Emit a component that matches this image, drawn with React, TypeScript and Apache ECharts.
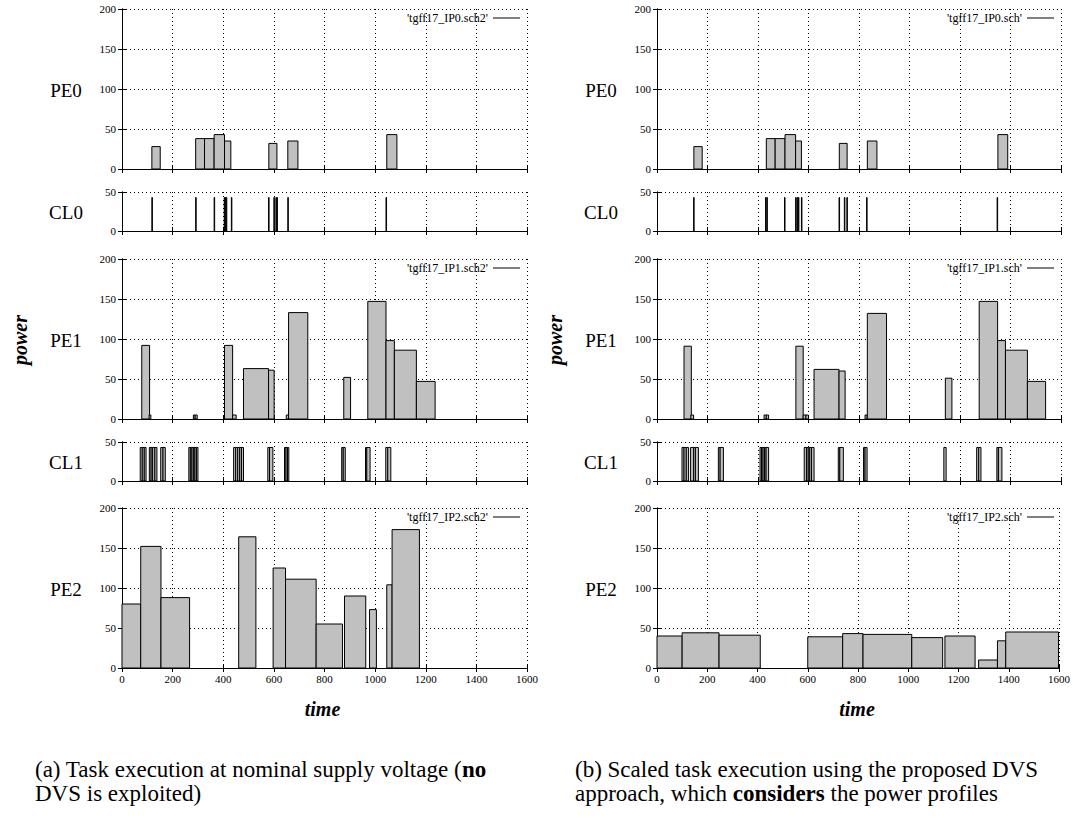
import React, { useEffect, useRef } from "react";
import * as echarts from "echarts";

// ---------- data: [start time, end time, power] ----------
// (a) nominal supply voltage
const PE0_A = [[118,151,28],[291,326,38],[326,364,38],[364,405,43],[405,430,35],[580,612,32],[655,695,35],[1046,1086,43]];
const CL0_A = [[118,120,43],[291,293,43],[364,366,43],[404,406,43],[408,410,43],[412,414,43],[432,434,43],[579,581,43],[600,602,43],[608,610,43],[612,614,43],[655,657,43],[1043,1045,43]];
const PE1_A = [[78,109,92],[107,114,5],[282,289,5],[289,297,5],[405,437,92],[437,451,5],[480,579,63],[579,601,61],[649,658,5],[658,734,133],[876,903,52],[971,1043,147],[1043,1076,98],[1076,1163,86],[1163,1237,47]];
const CL1_A = [[72,80,43],[80,88,43],[88,95,43],[108,115,43],[115,121,43],[121,130,43],[130,138,43],[153,162,43],[162,171,43],[264,270,43],[270,276,43],[276,282,43],[282,288,43],[288,294,43],[294,300,43],[441,449,43],[449,457,43],[457,465,43],[465,472,43],[472,480,43],[576,583,43],[583,596,43],[642,648,43],[648,654,43],[654,659,43],[868,874,43],[874,882,43],[962,967,43],[967,980,43],[1042,1050,43],[1050,1062,43]];
const PE2_A = [[0,74,80],[74,154,152],[154,267,88],[461,529,164],[597,646,125],[646,767,111],[767,871,55],[879,963,90],[978,1005,73],[1046,1067,104],[1067,1175,173]];

// (b) scaled (DVS)
const PE0_B = [[146,179,28],[433,468,38],[468,507,38],[507,549,43],[549,572,35],[722,753,32],[833,871,35],[1350,1389,43]];
const CL0_B = [[145,147,43],[430,432,43],[435,437,43],[505,507,43],[549,551,43],[555,557,43],[560,562,43],[572,574,43],[721,723,43],[742,744,43],[752,754,43],[830,832,43],[1347,1349,43]];
const PE1_B = [[107,136,91],[134,145,5],[424,433,5],[433,442,5],[550,579,91],[579,590,5],[590,600,5],[622,721,62],[721,745,60],[824,832,5],[833,909,132],[1142,1168,51],[1276,1349,147],[1349,1380,98],[1380,1467,86],[1467,1539,47]];
const CL1_B = [[99,107,43],[107,116,43],[116,125,43],[133,145,43],[145,152,43],[152,164,43],[243,250,43],[250,263,43],[408,414,43],[414,420,43],[420,426,43],[426,432,43],[432,442,43],[583,592,43],[592,599,43],[599,605,43],[605,612,43],[612,622,43],[718,724,43],[724,738,43],[818,824,43],[824,832,43],[1136,1145,43],[1266,1274,43],[1274,1283,43],[1346,1352,43],[1352,1366,43]];
const PE2_B = [[0,100,40],[100,247,44],[247,411,41],[600,739,39],[739,820,43],[820,1014,42],[1014,1137,38],[1146,1266,40],[1280,1355,10],[1355,1388,34],[1388,1598,45]];

const ROW_LABELS = ["PE0", "CL0", "PE1", "CL1", "PE2"];
const ROW_MAX = [200, 50, 200, 50, 200];
const LEGENDS_A = ["'tgff17_IP0.sch2'", null, "'tgff17_IP1.sch2'", null, "'tgff17_IP2.sch2'"];
const LEGENDS_B = ["'tgff17_IP0.sch'", null, "'tgff17_IP1.sch'", null, "'tgff17_IP2.sch'"];
// caption pieces: [text, bold]
const CAPTION_A: [string, boolean][][] = [
  [["(a) Task execution at nominal supply voltage (", false], ["no", true]],
  [["DVS is exploited)", false]],
];
const CAPTION_B: [string, boolean][][] = [
  [["(b) Scaled task execution using the proposed DVS", false]],
  [["approach, which ", false], ["considers", true], [" the power profiles", false]],
];

// ---------- layout ----------
const FONT = "Liberation Serif, serif";
const ROW_TOP = [9, 192, 259, 442, 508];
const ROW_H = [160, 39, 160, 39, 160];
const PANELS = [
  { left: 122, width: 405, rows: [PE0_A, CL0_A, PE1_A, CL1_A, PE2_A], legends: LEGENDS_A, caption: CAPTION_A, capX: 35 },
  { left: 657, width: 404, rows: [PE0_B, CL0_B, PE1_B, CL1_B, PE2_B], legends: LEGENDS_B, caption: CAPTION_B, capX: 575 },
];

function measure(text: string, bold: boolean, size: number) {
  const ctx = document.createElement("canvas").getContext("2d");
  if (!ctx) return text.length * size * 0.45;
  ctx.font = `${bold ? "bold " : ""}${size}px ${FONT}`;
  return ctx.measureText(text).width;
}

function buildOption() {
  const grid: any[] = [];
  const xAxis: any[] = [];
  const yAxis: any[] = [];
  const series: any[] = [];
  const graphic: any[] = [];
  const axisLine = { show: true, lineStyle: { color: "#000", width: 1 } };
  const tick = { show: true, inside: true, length: 4, lineStyle: { color: "#000", width: 1 } };
  const dotted = { show: true, lineStyle: { color: "#000", width: 1, type: [1, 3] } };
  const fmt = (v: number) => String(v);

  PANELS.forEach((p) => {
    p.rows.forEach((rows, r) => {
      const g = grid.length;
      grid.push({ left: p.left, top: ROW_TOP[r], width: p.width, height: ROW_H[r] });
      const isBottom = r === 4;
      const xBase = { type: "value", gridIndex: g, min: 0, max: 1600, interval: 200, axisLine, axisTick: tick };
      xAxis.push({
        ...xBase, position: "bottom",
        axisLabel: { show: isBottom, fontSize: 11, fontFamily: FONT, color: "#000", margin: 5, formatter: fmt },
        splitLine: dotted,
      });
      xAxis.push({ ...xBase, position: "top", axisLabel: { show: false }, splitLine: { show: false } });
      const yBase = { type: "value", gridIndex: g, min: 0, max: ROW_MAX[r], interval: 50, axisLine, axisTick: tick };
      yAxis.push({
        ...yBase, position: "left",
        axisLabel: { show: true, fontSize: 11, fontFamily: FONT, color: "#000", margin: 6, formatter: fmt },
        splitLine: dotted,
      });
      yAxis.push({ ...yBase, position: "right", axisLabel: { show: false }, splitLine: { show: false } });
      series.push({
        type: "custom",
        xAxisIndex: 2 * g,
        yAxisIndex: 2 * g,
        data: rows,
        encode: { x: [0, 1], y: 2 },
        renderItem: (params: any, api: any) => {
          const a = api.coord([api.value(0), api.value(2)]);
          const b = api.coord([api.value(1), 0]);
          return {
            type: "rect",
            shape: { x: a[0], y: a[1], width: b[0] - a[0], height: b[1] - a[1] },
            style: { fill: "#c0c0c0", stroke: "#000", lineWidth: 1 },
          };
        },
      });
      graphic.push({
        type: "text", x: p.left - 56, y: ROW_TOP[r] + ROW_H[r] / 2 + 1,
        style: { text: ROW_LABELS[r], fontSize: 19, fontFamily: FONT, fill: "#000", align: "center", verticalAlign: "middle" },
      });
      const lg = p.legends[r];
      if (lg) {
        const right = p.left + p.width;
        graphic.push({
          type: "text", x: right - 39, y: ROW_TOP[r] + 9,
          style: { text: lg, fontSize: 12, fontFamily: FONT, fill: "#000", align: "right", verticalAlign: "middle" },
        });
        graphic.push({
          type: "line", shape: { x1: right - 34, y1: ROW_TOP[r] + 9, x2: right - 7, y2: ROW_TOP[r] + 9 },
          style: { stroke: "#000", lineWidth: 1 },
        });
      }
    });
    graphic.push({
      type: "text", x: p.left - 102, y: 340, rotation: Math.PI / 2,
      style: { text: "power", fontSize: 20, fontFamily: FONT, fontStyle: "italic", fontWeight: "bold", fill: "#000", align: "center", verticalAlign: "middle" },
    });
    graphic.push({
      type: "text", x: p.left + p.width / 2 - 2, y: 709,
      style: { text: "time", fontSize: 20, fontFamily: FONT, fontStyle: "italic", fontWeight: "bold", fill: "#000", align: "center", verticalAlign: "middle" },
    });
    p.caption.forEach((line, i) => {
      let x = p.capX;
      line.forEach(([txt, bold]) => {
        graphic.push({
          type: "text", x, y: 769 + i * 24,
          style: {
            text: txt, fontSize: 23, fontFamily: FONT, fontWeight: bold ? "bold" : "normal",
            fill: "#000", align: "left", verticalAlign: "middle",
          },
        });
        x += measure(txt, bold, 23);
      });
    });
  });

  return { animation: false, backgroundColor: "#fff", grid, xAxis, yAxis, series, graphic };
}

export default function App() {
  const ref = useRef<HTMLDivElement>(null);
  useEffect(() => {
    if (!ref.current) return;
    const chart = echarts.init(ref.current, undefined, { renderer: "svg" });
    chart.setOption(buildOption() as any);
    return () => chart.dispose();
  }, []);
  return <div ref={ref} style={{ position: "absolute", left: 0, top: 0, width: 1073, height: 819 }} />;
}
